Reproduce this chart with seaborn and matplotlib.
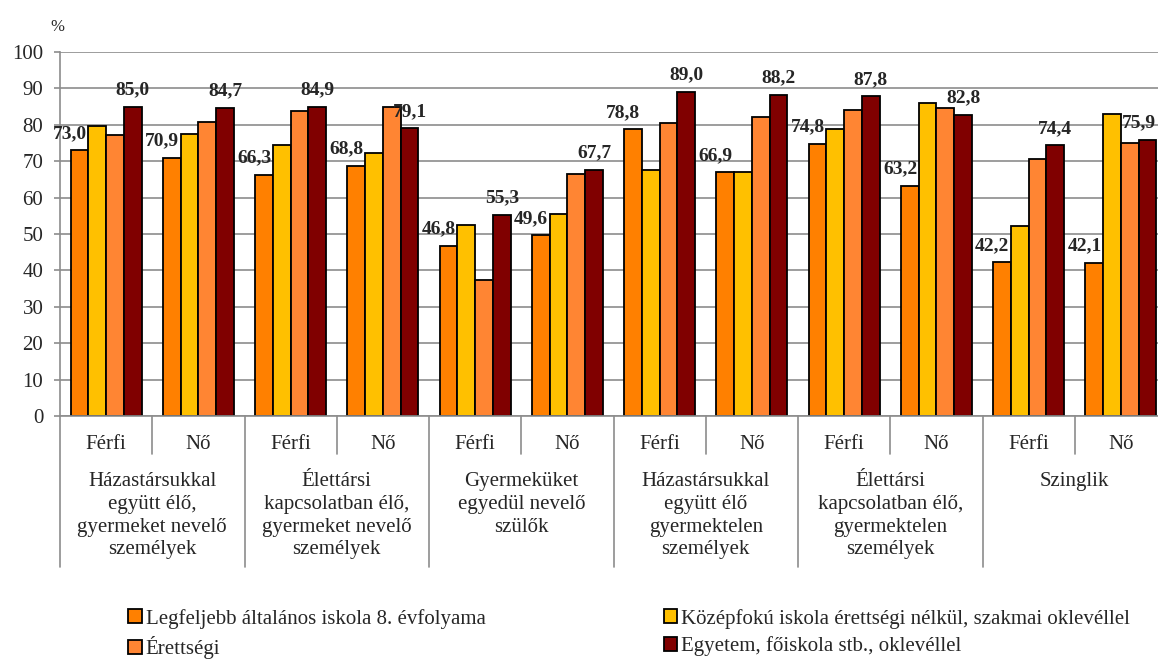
import matplotlib
matplotlib.use("Agg")
import matplotlib.pyplot as plt
import seaborn as sns
import pandas as pd

# data
categories = [
    "Házastársukkal\negyütt élő,\ngyermeket nevelő\nszemélyek",
    "Élettársi\nkapcsolatban élő,\ngyermeket nevelő\nszemélyek",
    "Gyermeküket\negyedül nevelő\nszülők",
    "Házastársukkal\negyütt élő\ngyermektelen\nszemélyek",
    "Élettársi\nkapcsolatban élő,\ngyermektelen\nszemélyek",
    "Szinglik",
]
sexes = ["Férfi", "Nő"]
series_names = [
    "Legfeljebb általános iskola 8. évfolyama",
    "Középfokú iskola érettségi nélkül, szakmai oklevéllel",
    "Érettségi",
    "Egyetem, főiskola stb., oklevéllel",
]
lowest = [73.0, 70.9, 66.3, 68.8, 46.8, 49.6, 78.8, 66.9, 74.8, 63.2, 42.2, 42.1]
vocational = [79.8, 77.4, 74.5, 72.3, 52.4, 55.6, 67.5, 67.0, 78.9, 86.0, 52.1, 83.1]
matura = [77.1, 80.8, 83.8, 84.9, 37.5, 66.6, 80.6, 82.2, 84.2, 84.5, 70.5, 74.9]
degree = [85.0, 84.7, 84.9, 79.1, 55.3, 67.7, 89.0, 88.2, 87.8, 82.8, 74.4, 75.9]
colors = ["#FF8000", "#FFC000", "#FF8533", "#800000"]

values = [lowest, vocational, matura, degree]
groups = [f"{c}|{s}" for c in categories for s in sexes]
rows = []
for name, vals in zip(series_names, values):
    for g, v in zip(groups, vals):
        rows.append({"group": g, "series": name, "value": v})
df = pd.DataFrame(rows)

sns.set_theme(style="white")
plt.rcParams["font.family"] = ["Liberation Serif", "DejaVu Serif"]

W, H = 1158, 660
fig = plt.figure(figsize=(W / 100, H / 100), dpi=100)
left, right, top, bottom = 60, 1167, 52, 416
ax = fig.add_axes([left / W, 1 - bottom / H, (right - left) / W, (bottom - top) / H])

sns.barplot(data=df, x="group", y="value", hue="series", hue_order=series_names,
            order=groups, palette=colors, width=0.77, edgecolor="black",
            linewidth=1.3, saturation=1, ax=ax)

handles, labels = ax.get_legend_handles_labels()
ax.get_legend().remove()

fs = 15
grid_color = "#8c8c8c"
ax.set_ylim(0, 100)
ax.set_xlim(-0.5, len(groups) - 0.5)
ax.set_yticks(range(0, 101, 10))
ax.yaxis.grid(True, color=grid_color, linewidth=1.2)
ax.set_axisbelow(True)
for s in ["top", "right"]:
    ax.spines[s].set_visible(False)
for s in ["left", "bottom"]:
    ax.spines[s].set_color(grid_color)
    ax.spines[s].set_linewidth(1.2)
ax.tick_params(axis="y", labelsize=fs, length=4, color=grid_color, width=1.2, pad=8, left=True)
ax.set_xticks(range(len(groups)))
ax.set_xticklabels([s for _ in categories for s in sexes], fontsize=fs)
ax.tick_params(axis="x", length=0, pad=14)
ax.set_xlabel("")
ax.set_ylabel("")

# separators below the axis
trans = ax.get_xaxis_transform()
short_y = (bottom - 454) / (bottom - top)
long_y = (bottom - 567) / (bottom - top)
for i in range(len(groups) + 1):
    y_end = long_y if i % 2 == 0 else short_y
    ax.plot([i - 0.5, i - 0.5], [0, y_end], color=grid_color, linewidth=1.2,
            transform=trans, clip_on=False)

# category labels
for k, cat in enumerate(categories):
    ax.text(2 * k + 0.5, (bottom - 472) / (bottom - top), cat, transform=trans,
            ha="center", va="top", fontsize=fs, linespacing=1.27)

# data labels on first and last series
for idx, dx in [(0, -7), (3, 0)]:
    for j, (bar, v) in enumerate(zip(ax.containers[idx], values[idx])):
        shift = dx - 6 if (idx == 3 and j == len(groups) - 1) else dx
        ax.annotate(f"{v:.1f}".replace(".", ","),
                    (bar.get_x() + bar.get_width() / 2, bar.get_height()),
                    xytext=(shift, 6), textcoords="offset points",
                    ha="center", va="bottom", fontsize=14, fontweight="bold",
                    annotation_clip=False)

fig.text(57 / W, 1 - 27 / H, "%", ha="center", va="center", fontsize=12)

order = [0, 2, 1, 3]
fig.legend([handles[i] for i in order], [labels[i] for i in order],
           loc="center left", bbox_to_anchor=(128 / W, 1 - 634 / H), ncol=2,
           frameon=False, fontsize=fs, handlelength=0.65, handleheight=0.65,
           handletextpad=0.2, columnspacing=8.55, labelspacing=0.36,
           borderaxespad=0, borderpad=0)

fig.savefig("out.png", dpi=100)
